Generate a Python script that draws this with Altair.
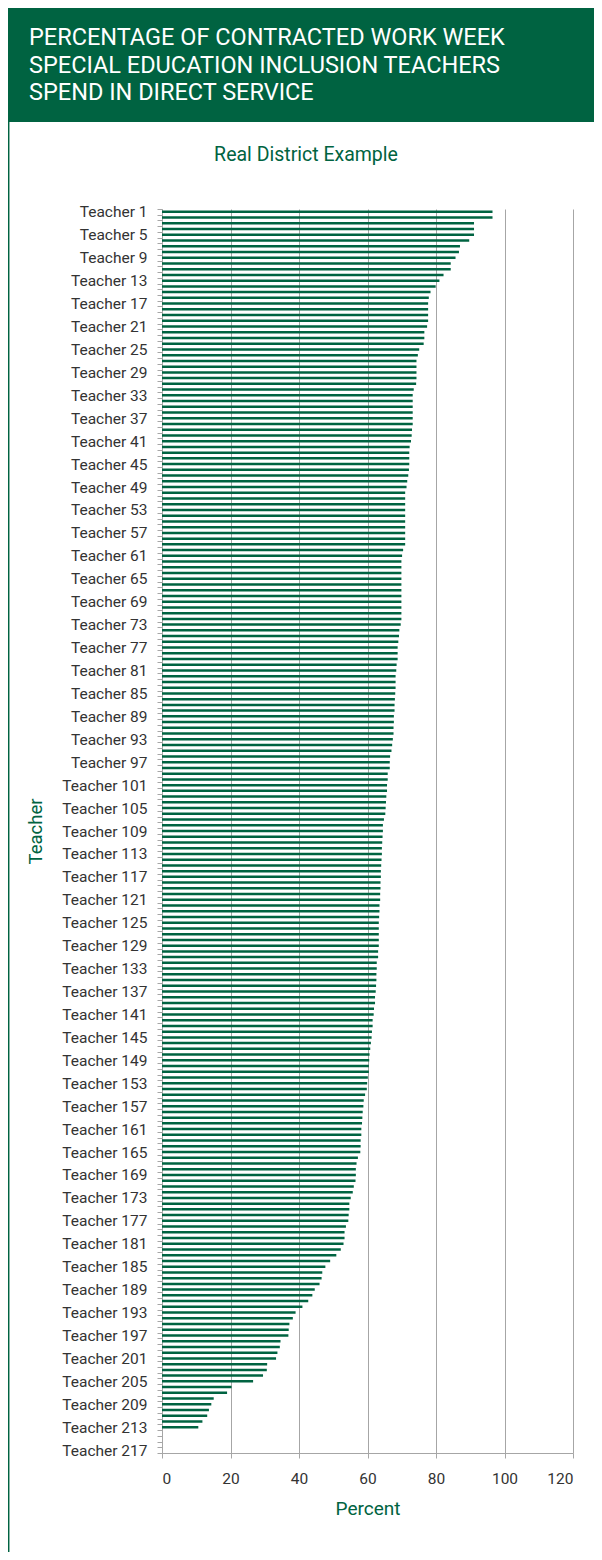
import altair as alt
import pandas as pd

GREEN = "#006341"
GRID = "#a6a6a6"

HEADER_LINES = [
    "PERCENTAGE OF CONTRACTED WORK WEEK",
    "SPECIAL EDUCATION INCLUSION TEACHERS",
    "SPEND IN DIRECT SERVICE",
]
SUBTITLE = "Real District Example"

TEACHERS = [f"Teacher {i}" for i in range(1, 218)]

PERCENT_1_26 = [96.5, 96.5, 91.1, 91.1, 91.1, 89.7, 87.0, 86.7, 85.7, 84.3, 84.3, 82.2, 81.0,
                79.9, 78.4, 77.9, 77.7, 77.7, 77.7, 77.7, 77.4, 76.6, 76.6, 76.4, 75.1, 74.7]
PERCENT_27_54 = [74.3, 74.3, 74.3, 74.3, 74.2, 73.5, 73.2, 73.2, 73.2, 73.2, 73.2, 73.2, 73.0, 72.9,
                 72.7, 72.3, 72.2, 72.2, 72.2, 72.1, 71.9, 71.6, 71.4, 71.0, 71.0, 71.0, 71.0, 71.0]
PERCENT_55_82 = [71.0, 71.0, 71.0, 71.0, 71.0, 70.4, 70.1, 69.9, 69.9, 69.9, 69.9, 69.9, 69.9, 69.9,
                 69.9, 69.9, 69.9, 69.9, 69.7, 69.3, 69.2, 69.0, 68.8, 68.8, 68.8, 68.5, 68.4, 68.2]
PERCENT_83_110 = [68.2, 68.2, 68.1, 68.0, 67.9, 67.9, 67.7, 67.7, 67.6, 67.6, 67.4, 67.2, 67.0, 66.6,
                  66.5, 66.5, 65.9, 65.9, 65.7, 65.7, 65.5, 65.4, 65.3, 65.2, 64.8, 64.5, 64.5, 64.4]
PERCENT_111_138 = [64.3, 64.2, 64.2, 64.1, 64.0, 63.9, 63.9, 63.8, 63.8, 63.7, 63.7, 63.5, 63.5, 63.4,
                   63.3, 63.3, 63.3, 63.3, 63.3, 63.1, 63.1, 62.7, 62.7, 62.6, 62.6, 62.5, 62.4, 62.2]
PERCENT_139_166 = [62.2, 61.9, 61.8, 61.5, 61.5, 61.3, 61.2, 61.0, 60.8, 60.6, 60.5, 60.4, 60.4, 60.1,
                   59.9, 59.8, 59.3, 58.9, 58.8, 58.6, 58.5, 58.4, 58.2, 58.2, 58.0, 58.0, 57.9, 57.2]
PERCENT_167_194 = [56.8, 56.6, 56.6, 56.5, 56.0, 55.7, 55.1, 54.7, 54.7, 54.5, 54.4, 53.7, 53.3, 53.3,
                   53.0, 52.2, 50.9, 49.1, 47.7, 46.8, 46.6, 46.0, 44.6, 43.9, 42.7, 41.0, 39.0, 38.2]
PERCENT_195_217 = [37.2, 37.0, 36.9, 34.6, 34.4, 33.7, 33.3, 30.7, 30.6, 29.5, 26.6, 20.3, 19.0, 15.1,
                   14.4, 13.7, 13.2, 11.8, 10.6, None, None, None, None]

PERCENT = (PERCENT_1_26 + PERCENT_27_54 + PERCENT_55_82 + PERCENT_83_110 + PERCENT_111_138
           + PERCENT_139_166 + PERCENT_167_194 + PERCENT_195_217)

X_TICKS = [0, 20, 40, 60, 80, 100, 120]

df = pd.DataFrame({"Teacher": TEACHERS, "Percent": PERCENT})
one = pd.DataFrame({"k": [0]})

FONT = "Roboto"
LABEL_COLOR = "#333333"

bars = alt.Chart(df).mark_bar(color=GREEN, size=2.5).encode(
    x=alt.X(
        "Percent:Q",
        scale=alt.Scale(domain=[0, 120], nice=False, zero=True),
        axis=alt.Axis(
            values=X_TICKS, grid=True, gridColor=GRID, gridWidth=1,
            domainColor=GRID, tickColor=GRID, tickSize=5,
            labelFont=FONT, labelFontSize=15.5, labelColor=LABEL_COLOR, labelPadding=13,
            title="Percent", titleFont=FONT, titleFontSize=19, titleColor=GREEN,
            titleFontWeight="normal", titlePadding=13,
        ),
    ),
    y=alt.Y(
        "Teacher:N",
        sort=TEACHERS,
        scale=alt.Scale(domain=TEACHERS, paddingInner=0, paddingOuter=0),
        axis=alt.Axis(
            labelExpr="toNumber(substring(datum.value, 8)) % 4 == 1 ? datum.value : ''",
            labelOverlap=False, tickBand="extent", grid=False,
            domainColor=GRID, tickColor=GRID, tickSize=5,
            labelFont=FONT, labelFontSize=15.5, labelColor=LABEL_COLOR, labelPadding=10,
            title="Teacher", titleFont=FONT, titleFontSize=18.5, titleColor=GREEN,
            titleFontWeight="normal", titleX=-127, titleBaseline="middle",
        ),
    ),
)

header_bg = alt.Chart(one).mark_rect(color=GREEN).encode(
    x=alt.value(-154), x2=alt.value(432), y=alt.value(-201), y2=alt.value(-87)
)
border = alt.Chart(one).mark_rule(color=GREEN, strokeWidth=1.5).encode(
    x=alt.value(-153.3), y=alt.value(-87), y2=alt.value(1343)
)
header_text = alt.Chart(one).mark_text(
    text=HEADER_LINES, align="left", baseline="top", font=FONT, fontSize=23.5,
    color="white", lineHeight=27.5,
).encode(x=alt.value(-133), y=alt.value(-183))
subtitle = alt.Chart(one).mark_text(
    text=SUBTITLE, align="center", baseline="middle", font=FONT, fontSize=19.5, color=GREEN,
).encode(x=alt.value(144), y=alt.value(-54))

chart = alt.layer(header_bg, border, header_text, subtitle, bars).properties(
    width=411,
    height=1244,
    padding={"left": 154, "top": 201, "right": 21, "bottom": 99},
    autosize=alt.AutoSizeParams(type="none"),
    background="white",
).configure_view(stroke=None)

chart.save("out.html", embed_options={"renderer": "svg", "actions": False})
